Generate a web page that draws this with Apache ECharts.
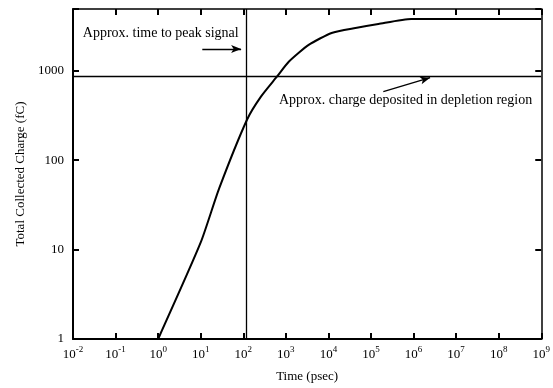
<!DOCTYPE html>
<html><head><meta charset="utf-8">
<script src="https://cdn.jsdelivr.net/npm/echarts@6/dist/echarts.min.js"></script>
<style>html,body{margin:0;padding:0;background:#fff}#c{width:553px;height:388px}</style>
</head><body><div id="c"></div>
<script>
var timePs = [1, 10, 27, 123, 260, 616, 1170, 3440, 11900, 43200, 149000, 880000, 1e9];
var chargeFc = [1, 12, 48, 285, 514, 858, 1260, 1945, 2645, 3005, 3330, 3785, 3785];
var peakTime = 120;
var depletionCharge = 870;
var yTickLabels = ['1', '10', '100', '1000'];
var note1 = 'Approx. time to peak signal';
var note2 = 'Approx. charge deposited in depletion region';
var note1Pos = [0.017, 2650];
var note2Pos = [690, 464];
var arrow1 = [[10.9, 1755], [89, 1755]];
var arrow2 = [[195000, 584], [2450000, 836]];

var FONT = 'Liberation Serif';
function isPow10(v){ var l = Math.log10(v); return Math.abs(l - Math.round(l)) < 1e-6; }

var chart = echarts.init(document.getElementById('c'));
var baseX = {
  type: 'log', logBase: 10, min: 0.01, max: 1e9, splitNumber: 11, interval: 1,
  splitLine: {show: false},
  axisLine: {lineStyle: {color: '#000', width: 2}},
  axisTick: {inside: true, length: 6, interval: 0, lineStyle: {color: '#000', width: 2}}
};
var baseY = {
  type: 'log', logBase: 10, min: 1, max: 4900, interval: 1,
  splitLine: {show: false},
  axisLine: {lineStyle: {color: '#000', width: 2}},
  axisTick: {inside: true, length: 6, interval: 0, lineStyle: {color: '#000', width: 2}}
};
chart.setOption({
  animation: false,
  backgroundColor: '#fff',
  grid: {left: 73, right: 10, top: 9, bottom: 47, containLabel: false},
  xAxis: [
    Object.assign({}, baseX, {
      position: 'bottom',
      name: 'Time (psec)', nameLocation: 'middle', nameGap: 31,
      nameTextStyle: {fontFamily: FONT, fontSize: 13, color: '#000'},
      axisLabel: {
        margin: 6, interval: 0, hideOverlap: false,
        formatter: function(v){
          if (!isPow10(v)) return '';
          var e = Math.round(Math.log10(v));
          return '{b|10}{s|' + e + '}';
        },
        rich: {
          b: {fontFamily: FONT, fontSize: 13, color: '#000', lineHeight: 16, verticalAlign: 'bottom'},
          s: {fontFamily: FONT, fontSize: 9, color: '#000', lineHeight: 16, verticalAlign: 'top'}
        }
      }
    }),
    Object.assign({}, baseX, {
      position: 'top', axisLabel: {show: false},
      axisLine: {lineStyle: {color: '#000', width: 1.5}}
    })
  ],
  yAxis: [
    Object.assign({}, baseY, {
      position: 'left',
      name: 'Total Collected Charge (fC)', nameLocation: 'middle', nameGap: 46,
      nameTextStyle: {fontFamily: FONT, fontSize: 13, color: '#000'},
      axisLabel: {
        margin: 9, fontFamily: FONT, fontSize: 13, color: '#000',
        formatter: function(v){
          if (!isPow10(v)) return '';
          return yTickLabels[Math.round(Math.log10(v))] || '';
        }
      }
    }),
    Object.assign({}, baseY, {
      position: 'right', axisLabel: {show: false},
      axisLine: {lineStyle: {color: '#000', width: 1.5}}
    })
  ],
  series: [{
    type: 'line',
    data: timePs.map(function(t, i){ return [t, chargeFc[i]]; }),
    showSymbol: false, symbol: 'none', smooth: 0.2,
    lineStyle: {color: '#000', width: 2},
    markLine: {
      silent: true, animation: false, symbol: ['none', 'none'],
      label: {show: false},
      lineStyle: {color: '#000', width: 1.3, type: 'solid'},
      data: [
        {xAxis: peakTime},
        {yAxis: depletionCharge},
        [{coord: arrow1[0], symbol: 'none'}, {coord: arrow1[1], symbol: 'arrow', symbolSize: [6, 10]}],
        [{coord: arrow2[0], symbol: 'none'}, {coord: arrow2[1], symbol: 'arrow', symbolSize: [6, 10]}]
      ]
    },
    markPoint: {
      silent: true, symbol: 'circle', symbolSize: 0,
      data: [
        {coord: note1Pos, label: {show: true, position: 'right', distance: 0, formatter: note1, fontFamily: FONT, fontSize: 14, color: '#000'}},
        {coord: note2Pos, label: {show: true, position: 'right', distance: 0, formatter: note2, fontFamily: FONT, fontSize: 14, color: '#000'}}
      ]
    }
  }]
});
</script></body></html>
